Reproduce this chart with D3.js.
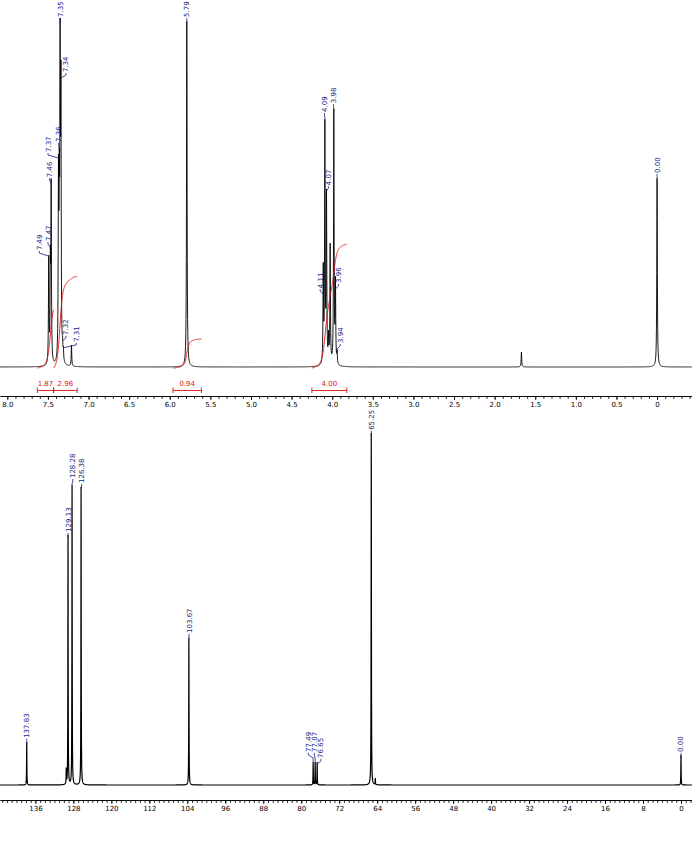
<!DOCTYPE html>
<html><head><meta charset="utf-8">
<script src="https://cdn.jsdelivr.net/npm/d3@7"></script>
<style>body{margin:0;background:#fff}svg{display:block}</style>
</head><body>
<svg id="c" width="692" height="842"></svg>
<script>
// ---------- 1H spectrum data ----------
const hPeakPpm    = [7.49, 7.47, 7.46, 7.37, 7.36, 7.35, 7.34, 7.32, 7.31, 7.21, 5.79, 4.11, 4.09, 4.07, 4.045, 4.025, 3.98, 3.96, 3.94, 1.67, 0.00];
const hPeakHeight = [32,   35,   54,   61,   63,   100,  88,   9,    6,    6.3,  99,   30,   71,   51,   10.6,  35.5,  74,   26,   5,    4.3,  54];
const hLabelText  = ["7.49","7.47","7.46","7.37","7.36","7.35","7.34","7.32","7.31","5.79","4.11","4.09","4.07","3.98","3.96","3.94","0.00"];
const hLabelPeak  = [7.49, 7.47, 7.46, 7.37, 7.36, 7.35, 7.34, 7.32, 7.31, 5.79, 4.11, 4.09, 4.07, 3.98, 3.96, 3.94, 0.00];
const intFrom  = [7.63, 7.43, 5.96, 4.25];
const intTo    = [7.43, 7.14, 5.61, 3.82];
const intValue = [1.87, 2.96, 0.94, 4.00];
const intText  = ["1.87", "2.96", "0.94", "4.00"];
const hTicks   = [8.0, 7.5, 7.0, 6.5, 6.0, 5.5, 5.0, 4.5, 4.0, 3.5, 3.0, 2.5, 2.0, 1.5, 1.0, 0.5, 0];

// ---------- 13C spectrum data ----------
const cPeakPpm    = [137.83, 129.5, 129.13, 128.28, 126.38, 103.67, 77.49, 77.07, 76.65, 65.25, 64.4, 0.00];
const cPeakHeight = [12.2,   5.0,   71.0,   85.2,   84.7,   41.8,   6.5,   6.5,   6.5,   100,   2.0,  8.5];
const cLabelText  = ["137.83","129.13","128.28","126.38","103.67","77.49","77.07","76.65","65.25","0.00"];
const cLabelPeak  = [137.83, 129.13, 128.28, 126.38, 103.67, 77.49, 77.07, 76.65, 65.25, 0.00];
const cTicks = [136, 128, 120, 112, 104, 96, 88, 80, 72, 64, 56, 48, 40, 32, 24, 16, 8, 0];

// ---------- layout (label anchor: [ppm of label, intensity of label bottom]) ----------
const hLabelPos = [[7.606,33.5],[7.499,36.1],[7.479,54.4],[7.499,61.6],[7.369,64.5],[7.348,100.3],[7.278,84.5],[7.278,9.2],[7.151,7.2],
                   [5.79,100.3],[4.148,22.6],[4.095,73.1],[4.046,52.1],[3.984,75.6],[3.922,24.1],[3.902,6.9],[0.0,55.6]];
const cLabelPos = [[137.83,13.4],[129.13,71.9],[128.12,87.2],[126.25,85.8],[103.64,43.2],[78.51,9.4],[77.25,9.4],[75.84,7.7],[65.24,100.9],[0.0,9.4]];

const BLACK = "#000", RED = "#e01010", BLUE = "#1c1c80";
const FONT = "DejaVu Sans";

const svg = d3.select("#c");

const xT = d3.scaleLinear().domain([8.09, -0.43]).range([0, 692]);
const yT = d3.scaleLinear().domain([0, 100]).range([367, 18]);
const xB = d3.scaleLinear().domain([143.46, -2.32]).range([0, 692]);
const yB = d3.scaleLinear().domain([0, 100]).range([785, 433]);

const L = (d, w) => 1 / (1 + (d / w) * (d / w));

function solveHeights(ppm, target, w) {
  let h = target.slice();
  for (let it = 0; it < 60; it++) {
    h = target.map((t, i) => t - ppm.reduce((s, p, j) => j === i ? s : s + h[j] * L(ppm[i] - p, w), 0));
  }
  return h;
}

function buildSpectrum(ppm, target, w, hi, lo, step) {
  const h = solveHeights(ppm, target, w);
  const xs = d3.range(hi, lo, -step).concat(ppm).sort((a, b) => b - a);
  return xs.map(d => [d, ppm.reduce((s, p, j) => s + h[j] * L(d - p, w), 0)]);
}

function drawLabels(g, x, y, texts, peaks, pos, ppm, target) {
  texts.forEach((t, i) => {
    const px = x(peaks[i]);
    const k = ppm.indexOf(peaks[i]);
    const pt = y(target[k]);
    const lx = x(pos[i][0]);
    const lb = y(pos[i][1]);
    g.append("path")
      .attr("d", `M${lx},${lb + 1}V${lb + 3}L${px},${lb + 6}V${Math.max(lb + 6, pt)}`)
      .attr("fill", "none").attr("stroke", BLUE).attr("stroke-width", 0.8);
    g.append("text")
      .attr("transform", `translate(${lx + 2.5},${lb}) rotate(-90)`)
      .attr("font-family", FONT).attr("font-size", 7).attr("fill", BLUE)
      .attr("text-anchor", "start").text(t);
  });
}

function styleAxis(g) {
  g.selectAll("text").attr("font-family", FONT).attr("font-size", 7).attr("fill", BLACK);
  g.selectAll("path,line").attr("stroke", BLACK).attr("stroke-width", 0.8);
}

// ================= TOP (1H) =================
const gT = svg.append("g");
const hSpec = buildSpectrum(hPeakPpm, hPeakHeight, 0.004, 8.09, -0.43, 0.002);
gT.append("path")
  .attr("d", d3.line().x(d => xT(d[0])).y(d => yT(d[1]))(hSpec))
  .attr("fill", "none").attr("stroke", BLACK).attr("stroke-width", 0.9);

// integrals
const pxPerUnitT = 31;
const intScale = pxPerUnitT / (yT(0) - yT(1));
intFrom.forEach((a, k) => {
  const b = intTo[k], wi = 0.02;
  const inside = hPeakPpm.map((p, j) => j).filter(j => hPeakPpm[j] <= a + 0.02 && hPeakPpm[j] >= b - 0.02);
  const cum = d => inside.reduce((s, j) => s + hPeakHeight[j] * (Math.atan((a - hPeakPpm[j]) / wi) - Math.atan((d - hPeakPpm[j]) / wi)), 0);
  const tot = cum(b);
  const pts = d3.range(a, b, -0.002).concat([b]).map(d => [d, -0.3 + intValue[k] * intScale * cum(d) / tot]);
  gT.append("path")
    .attr("d", d3.line().x(d => xT(d[0])).y(d => yT(d[1]))(pts))
    .attr("fill", "none").attr("stroke", RED).attr("stroke-width", 0.9);
  const x1 = xT(a), x2 = xT(b), by = 390.5;
  gT.append("path")
    .attr("d", `M${x1},${by - 3}V${by + 2.5}M${x1},${by}H${x2}M${x2},${by - 3}V${by + 2.5}`)
    .attr("fill", "none").attr("stroke", RED).attr("stroke-width", 0.9);
  gT.append("text").attr("x", (x1 + x2) / 2).attr("y", by - 5)
    .attr("text-anchor", "middle").attr("font-family", FONT).attr("font-size", 7)
    .attr("fill", RED).text(intText[k]);
});

drawLabels(gT, xT, yT, hLabelText, hLabelPeak, hLabelPos, hPeakPpm, hPeakHeight);

const minorT = d3.range(-4, 81).map(i => i / 10);
const axTminor = gT.append("g").attr("transform", "translate(0,396)")
  .call(d3.axisBottom(xT).tickValues(minorT).tickSize(3).tickSizeOuter(0).tickFormat(""));
styleAxis(axTminor);
const axT = gT.append("g").attr("transform", "translate(0,396)")
  .call(d3.axisBottom(xT).tickValues(hTicks).tickSize(4).tickSizeOuter(0).tickPadding(2)
    .tickFormat(d => d === 0 ? "0" : d3.format(".1f")(d)));
styleAxis(axT);

// ================= BOTTOM (13C) =================
const gB = svg.append("g");
const cSpec = buildSpectrum(cPeakPpm, cPeakHeight, 0.035, 143.46, -2.32, 0.01);
gB.append("path")
  .attr("d", d3.line().x(d => xB(d[0])).y(d => yB(d[1]))(cSpec))
  .attr("fill", "none").attr("stroke", BLACK).attr("stroke-width", 1.2);

drawLabels(gB, xB, yB, cLabelText, cLabelPeak, cLabelPos, cPeakPpm, cPeakHeight);

const minorB = d3.range(-2, 144);
const axBminor = gB.append("g").attr("transform", "translate(0,800)")
  .call(d3.axisBottom(xB).tickValues(minorB).tickSize(3).tickSizeOuter(0).tickFormat(""));
styleAxis(axBminor);
const axB = gB.append("g").attr("transform", "translate(0,800)")
  .call(d3.axisBottom(xB).tickValues(cTicks).tickSize(4).tickSizeOuter(0).tickPadding(2)
    .tickFormat(d3.format("d")));
styleAxis(axB);
</script>
</body></html>
